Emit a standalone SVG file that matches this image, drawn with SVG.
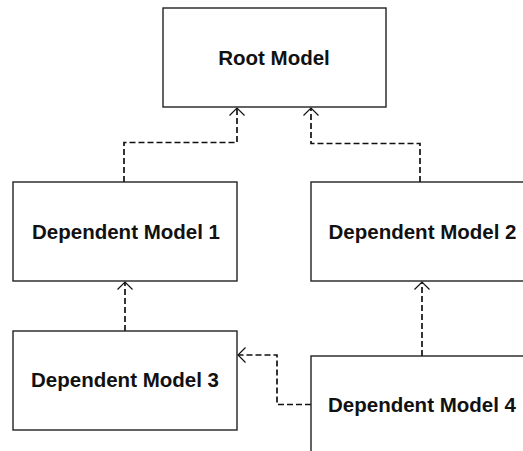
<svg xmlns="http://www.w3.org/2000/svg" width="523" height="451" viewBox="0 0 523 451">
<defs>
<style>
.box{fill:#fff;stroke:#222;stroke-width:1.4}
.lbl{font-family:"Liberation Sans",Arial,sans-serif;font-weight:bold;font-size:20.5px;fill:#111;text-anchor:middle}
.dep{fill:none;stroke:#111;stroke-width:1.7;stroke-dasharray:6 3}
</style>
<marker id="open" markerWidth="20" markerHeight="20" viewBox="-10 -10 20 20" refX="0" refY="0" orient="auto" markerUnits="userSpaceOnUse">
<path d="M-7.5,-7.5 L0,0 L-7.5,7.5" fill="none" stroke="#111" stroke-width="1.2"/>
</marker>
</defs>
<rect width="523" height="451" fill="#fff"/>
<g id="connectors">
<path class="dep" d="M124,182 V142.5 H237 V108" marker-end="url(#open)"/>
<path class="dep" d="M420,182 V143.5 H311 V108" marker-end="url(#open)"/>
<path class="dep" d="M125,331 V282" marker-end="url(#open)"/>
<path class="dep" d="M422,356 V282" marker-end="url(#open)"/>
<path class="dep" d="M311,404.5 H277 V355 H238" marker-end="url(#open)"/>
</g>
<g id="root-model">
<rect class="box" x="163" y="8" width="223" height="99"/>
<text class="lbl" x="274" y="65">Root Model</text>
</g>
<g id="dependent-model-1">
<rect class="box" x="13" y="182" width="224" height="99"/>
<text class="lbl" x="126" y="238.5">Dependent Model 1</text>
</g>
<g id="dependent-model-2">
<rect class="box" x="311" y="182" width="224" height="99"/>
<text class="lbl" x="422.5" y="238.5">Dependent Model 2</text>
</g>
<g id="dependent-model-3">
<rect class="box" x="13" y="331" width="224" height="99"/>
<text class="lbl" x="125" y="387">Dependent Model 3</text>
</g>
<g id="dependent-model-4">
<rect class="box" x="311" y="356" width="224" height="99"/>
<text class="lbl" x="422" y="411.5">Dependent Model 4</text>
</g>
</svg>
